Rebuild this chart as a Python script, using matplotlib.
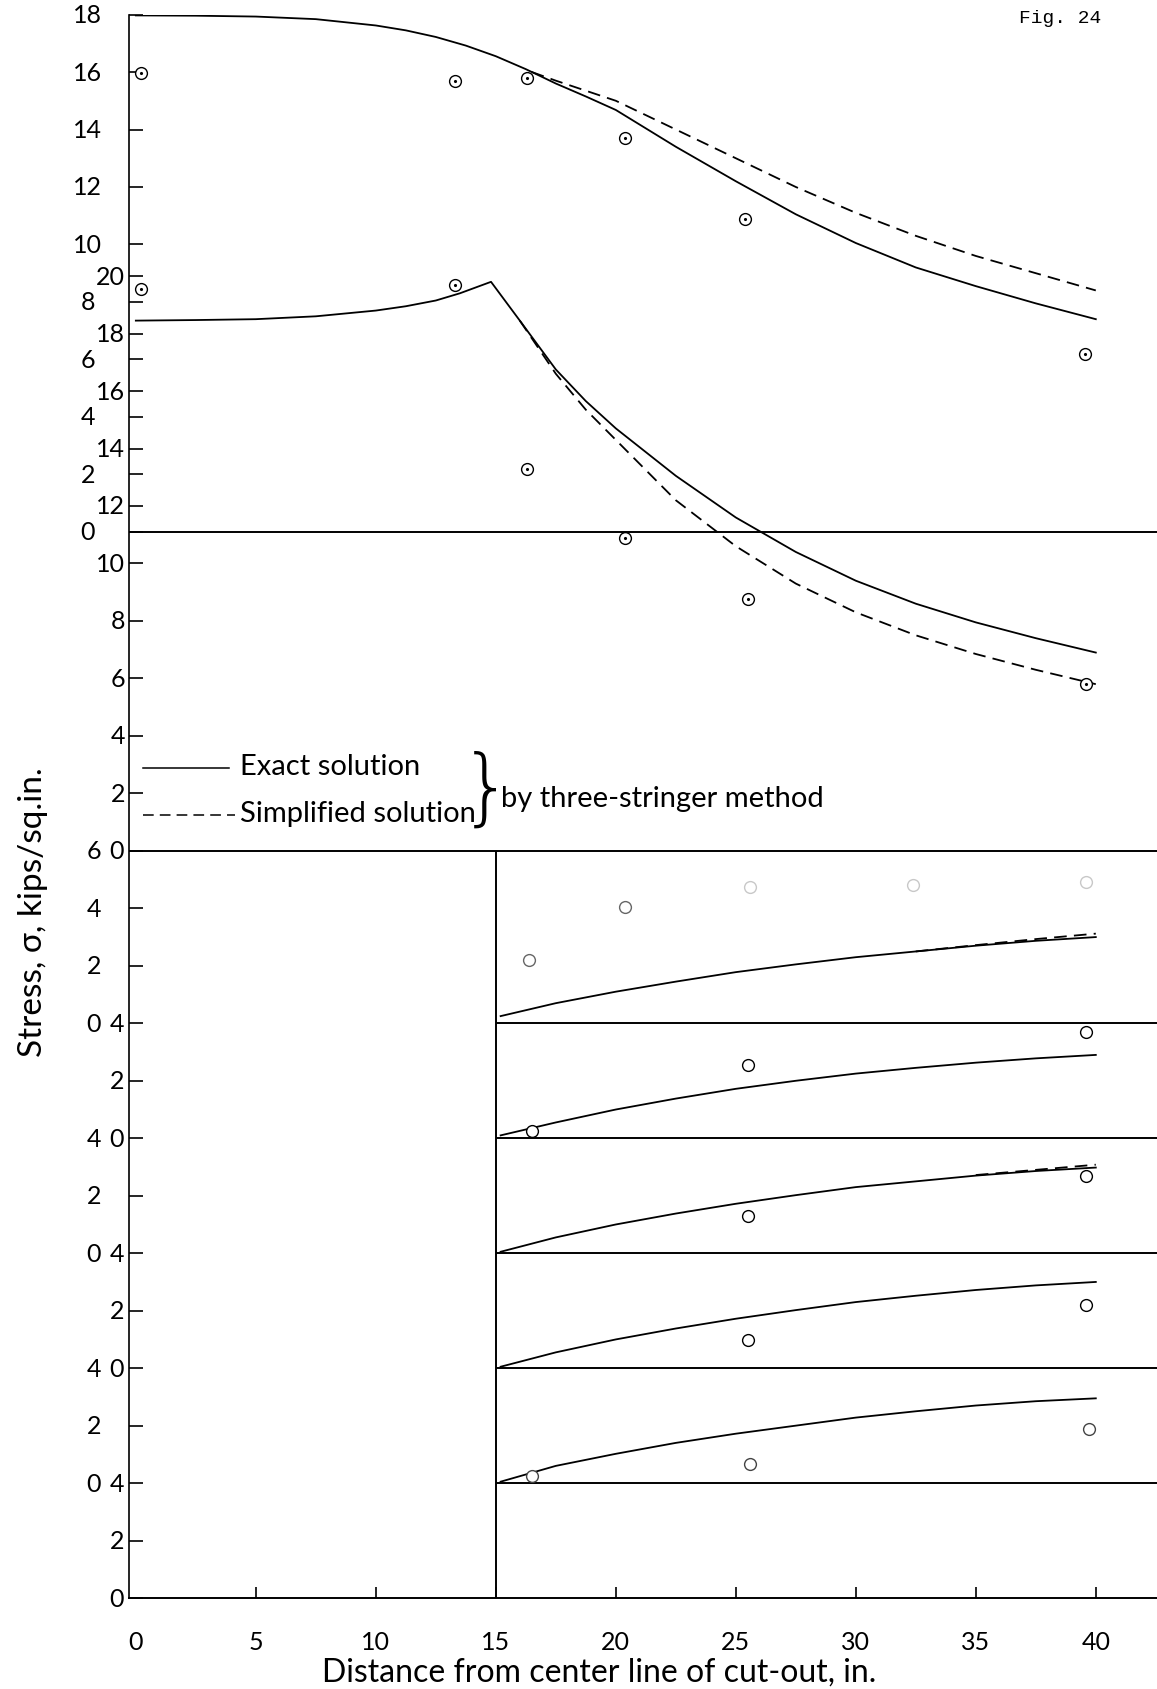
import matplotlib
matplotlib.use("Agg")
import matplotlib.pyplot as plt

# ---------------- data ----------------
# upper panel (stress scale 0-18, zero line at TOP_BASE)
top_exact_x = [0, 2.5, 5, 7.5, 10, 11.25, 12.5, 13.75, 15, 16.25, 17.5, 18.75, 20, 22.5, 25, 27.5, 30, 32.5, 35, 37.5, 40]
top_exact_y = [17.97, 17.96, 17.93, 17.84, 17.62, 17.45, 17.22, 16.92, 16.55, 16.1, 15.6, 15.15, 14.68, 13.4, 12.2, 11.05, 10.05, 9.2, 8.55, 7.95, 7.4]
top_simp_x = [16.5, 17.5, 18.75, 20, 22.5, 25, 27.5, 30, 32.5, 35, 37.5, 40]
top_simp_y = [16.0, 15.7, 15.35, 15.0, 14.0, 13.0, 12.0, 11.1, 10.3, 9.6, 9.0, 8.4]
top_test_x = [0.2, 13.3, 16.3, 20.4, 25.4, 39.55]
top_test_y = [15.95, 15.7, 15.8, 13.7, 10.9, 6.2]

# middle panel (stress scale 0-20)
mid_exact_x = [0, 2.5, 5, 7.5, 10, 11.25, 12.5, 13.5, 14.8, 16, 17.5, 18.75, 20, 22.5, 25, 27.5, 30, 32.5, 35, 37.5, 40]
mid_exact_y = [18.45, 18.47, 18.5, 18.6, 18.8, 18.95, 19.15, 19.4, 19.8, 18.45, 16.75, 15.65, 14.7, 13.05, 11.6, 10.4, 9.4, 8.6, 7.95, 7.4, 6.9]
mid_simp_x = [16, 17.5, 18.75, 20, 22.5, 25, 27.5, 30, 32.5, 35, 37.5, 40]
mid_simp_y = [18.45, 16.6, 15.35, 14.3, 12.2, 10.6, 9.3, 8.3, 7.5, 6.85, 6.3, 5.8]
mid_test_x = [0.2, 13.3, 16.3, 20.4, 25.5, 39.6]
mid_test_y = [19.55, 19.7, 13.3, 10.9, 8.75, 5.8]

# lower stack of five small panels (stress scale 0-4 / 0-6)
low_x = [15.2, 17.5, 20, 22.5, 25, 27.5, 30, 32.5, 35, 37.5, 40]
low_a_exact = [0.25, 0.7, 1.1, 1.45, 1.78, 2.05, 2.3, 2.5, 2.7, 2.87, 3.0]
low_b_exact = [0.1, 0.55, 1.0, 1.38, 1.72, 2.0, 2.25, 2.45, 2.63, 2.78, 2.9]
low_c_exact = [0.05, 0.55, 1.0, 1.38, 1.72, 2.02, 2.3, 2.5, 2.7, 2.86, 2.98]
low_d_exact = [0.05, 0.55, 1.0, 1.38, 1.72, 2.02, 2.3, 2.52, 2.72, 2.88, 3.0]
low_e_exact = [0.05, 0.6, 1.02, 1.4, 1.72, 2.0, 2.28, 2.5, 2.7, 2.85, 2.95]
low_a_simp_x = [32.5, 35, 37.5, 40]
low_a_simp_y = [2.5, 2.72, 2.93, 3.12]
low_c_simp_x = [35, 37.5, 40]
low_c_simp_y = [2.72, 2.9, 3.08]
low_a_test_x = [16.4, 20.4, 25.6, 32.4, 39.6]
low_a_test_y = [2.2, 4.05, 4.75, 4.8, 4.9]
low_b_test_x = [16.5, 25.5, 39.6]
low_b_test_y = [0.26, 2.55, 3.7]
low_c_test_x = [25.5, 39.6]
low_c_test_y = [1.3, 2.7]
low_d_test_x = [25.5, 39.6]
low_d_test_y = [0.98, 2.2]
low_e_test_x = [16.5, 25.6, 39.7]
low_e_test_y = [0.26, 0.68, 1.9]

x_ticks = [0, 5, 10, 15, 20, 25, 30, 35, 40]
top_labels = ["0", "2", "4", "6", "8", "10", "12", "14", "16", "18"]
mid_labels = ["2", "4", "6", "8", "10", "12", "14", "16", "18", "20"]

# panel zero-line positions on the shared vertical scale
TOP_BASE = 37.1
MID_BASE = 26.0
LOW_BASES = [20, 16, 12, 8, 4]

# ---------------- style ----------------
FONT = ["Lato", "DejaVu Sans"]
plt.rcParams["font.family"] = FONT
plt.rcParams["text.color"] = "black"
LW = 1.3
DASH = (0, (7, 4))

fig = plt.figure(figsize=(11.57, 16.90), dpi=100)
ax = fig.add_axes([0.1118, 0.0538, 0.8882, 0.9370])
ax.set_xlim(-0.27, 42.55)
ax.set_ylim(0, 55.1)

for s in ["top", "right"]:
    ax.spines[s].set_visible(False)
ax.spines["left"].set_linewidth(1.2)
ax.spines["bottom"].set_linewidth(1.4)

# frame lines of the panels
ax.axhline(TOP_BASE, color="black", lw=1.4)
ax.axhline(MID_BASE, color="black", lw=1.4)
ax.hlines(LOW_BASES, 15, 42.55, color="black", lw=1.4)
ax.vlines(15, 0, MID_BASE, color="black", lw=1.4)


def circles(xs, ys, base, dot=True, color="black"):
    yy = [base + v for v in ys]
    ax.plot(xs, yy, "o", ms=8.5, mfc="white", mec=color, mew=1.0, zorder=5)
    if dot:
        ax.plot(xs, yy, ".", ms=2.5, color=color, zorder=6)


# upper panel
ax.plot(top_exact_x, [TOP_BASE + v for v in top_exact_y], color="black", lw=LW)
ax.plot(top_simp_x, [TOP_BASE + v for v in top_simp_y], color="black", lw=LW, ls=DASH)
circles(top_test_x, top_test_y, TOP_BASE)

# middle panel
ax.plot(mid_exact_x, [MID_BASE + v for v in mid_exact_y], color="black", lw=LW)
ax.plot(mid_simp_x, [MID_BASE + v for v in mid_simp_y], color="black", lw=LW, ls=DASH)
circles(mid_test_x, mid_test_y, MID_BASE)

# lower panels
low_exact = [low_a_exact, low_b_exact, low_c_exact, low_d_exact, low_e_exact]
for base, ys in zip(LOW_BASES, low_exact):
    ax.plot(low_x, [base + v for v in ys], color="black", lw=LW)
ax.plot(low_a_simp_x, [LOW_BASES[0] + v for v in low_a_simp_y], color="black", lw=LW, ls=DASH)
ax.plot(low_c_simp_x, [LOW_BASES[2] + v for v in low_c_simp_y], color="black", lw=LW, ls=DASH)
circles(low_a_test_x[:2], low_a_test_y[:2], LOW_BASES[0], dot=False, color="#666666")
circles(low_a_test_x[2:], low_a_test_y[2:], LOW_BASES[0], dot=False, color="#c8c8c8")
circles(low_b_test_x, low_b_test_y, LOW_BASES[1], dot=False)
circles(low_c_test_x, low_c_test_y, LOW_BASES[2], dot=False)
circles(low_d_test_x, low_d_test_y, LOW_BASES[3], dot=False)
circles(low_e_test_x, low_e_test_y, LOW_BASES[4], dot=False, color="#444444")

# ---------------- ticks ----------------
ax.set_xticks(x_ticks)
ax.set_xticklabels([str(v) for v in x_ticks], fontsize=18, color="black")
ax.tick_params(axis="x", direction="in", length=8, width=1.2, pad=23)
ax.xaxis.get_major_ticks()[0].tick1line.set_visible(False)

tick_y = list(range(0, 47, 2)) + [TOP_BASE + 2 * k for k in range(10)]
ax.set_yticks(tick_y)
ax.set_yticklabels([])
ax.tick_params(axis="y", direction="in", length=10, width=1.2)

LEFT_COL = -2.0
RIGHT_COL = -0.45
kw = dict(fontsize=18, color="black", va="center", clip_on=False)
# upper panel labels (outer column)
for k, lab in enumerate(top_labels):
    ax.text(LEFT_COL, TOP_BASE + 2 * k, lab, ha="center", **kw)
# middle panel labels (inner column)
for k, lab in enumerate(mid_labels):
    ax.text(RIGHT_COL, MID_BASE + 2 * (k + 1), lab, ha="right", **kw)
# lower stack: two alternating columns
left_col_y = [26, 24, 22, 20, 16, 14, 12, 8, 6, 4]
left_col_t = ["6", "4", "2", "0", "4", "2", "0", "4", "2", "0"]
right_col_y = [26, 20, 18, 16, 12, 10, 8, 4, 2, 0]
right_col_t = ["0", "4", "2", "0", "4", "2", "0", "4", "2", "0"]
for yv, t in zip(left_col_y, left_col_t):
    ax.text(LEFT_COL + 0.25, yv, t, ha="center", **kw)
for yv, t in zip(right_col_y, right_col_t):
    ax.text(RIGHT_COL - 0.35, yv, t, ha="center", **kw)

# ---------------- legend ----------------
ax.plot([0.3, 3.9], [28.9, 28.9], color="black", lw=1.1)
ax.plot([0.3, 4.15], [27.25, 27.25], color="black", lw=1.1, ls=DASH)
ax.text(4.35, 28.95, "Exact solution", fontsize=21, va="center")
ax.text(4.35, 27.3, "Simplified solution", fontsize=21, va="center")
ax.text(14.6, 28.1, "}", fontsize=60, fontweight="ultralight", va="center", ha="center",
        family=["DejaVu Sans"])
ax.text(15.2, 27.85, "by three-stringer method", fontsize=21, va="center")

# ---------------- titles ----------------
ax.text(19.3, -2.55, "Distance from center line of cut-out, in.", fontsize=23,
        ha="center", va="center", clip_on=False)
ax.text(-4.3, 23.9, "Stress, σ, kips/sq.in.", fontsize=24,
        rotation=90, ha="center", va="center", clip_on=False)
ax.text(38.5, 55.0, "Fig. 24", fontsize=14, family=["Liberation Mono", "DejaVu Sans Mono"],
        ha="center", va="center", clip_on=False)

fig.savefig("out.png", dpi=100)
